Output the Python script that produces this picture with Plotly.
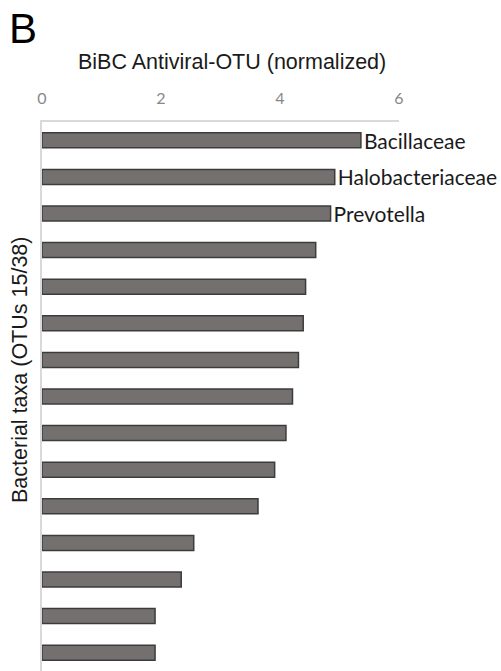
import plotly.graph_objects as go

categories = [f"OTU{i}" for i in range(1, 16)]
values = [5.36, 4.92, 4.85, 4.60, 4.43, 4.39, 4.31, 4.21, 4.10, 3.91, 3.63, 2.55, 2.34, 1.90, 1.90]
bar_labels = ["Bacillaceae", "Halobacteriaceae", "Prevotella"] + [""] * 12
x_ticks = [0, 2, 4, 6]

fig = go.Figure()
fig.add_trace(go.Bar(
    y=categories, x=values, orientation="h",
    width=0.41,
    marker=dict(color="#747070", line=dict(color="#3c3c3c", width=1.5)),
    text=bar_labels, textposition="outside", cliponaxis=False, constraintext="none",
    textfont=dict(family="Lato, Carlito, sans-serif", size=21, color="#1a1a1a"),
    hoverinfo="skip",
))

fig.update_layout(
    width=501, height=671,
    margin=dict(l=42, r=102, t=122, b=0),
    plot_bgcolor="white", paper_bgcolor="white",
    showlegend=False,
    xaxis=dict(
        side="top", range=[0, 6], tickvals=x_ticks, automargin=False,
        showgrid=False, zeroline=False,
        showline=True, linecolor="#d9d9d9", linewidth=2,
        tickfont=dict(family="Lato, sans-serif", size=16, color="#888888"),
        ticks="", ticklen=0, ticklabelstandoff=10,
    ),
    yaxis=dict(
        categoryorder="array", categoryarray=categories, automargin=False,
        autorange=False, range=[14.5, -0.5],
        showticklabels=False, showgrid=False, zeroline=False,
        showline=True, linecolor="#d9d9d9", linewidth=2, ticks="",
    ),
)

fig.add_annotation(text="B", xref="paper", yref="paper",
                   x=(22.5 - 42)/357, y=1 + (122 - 28)/549, xanchor="center", yanchor="middle",
                   showarrow=False, font=dict(family="Liberation Sans, Arial", size=42, color="black"))
fig.add_annotation(text="BiBC Antiviral-OTU (normalized)", xref="paper", yref="paper",
                   x=(232 - 42)/357, y=1 + (122 - 62)/549, xanchor="center", yanchor="middle",
                   showarrow=False, font=dict(family="Liberation Sans, Arial", size=21.5, color="#1a1a1a"))
fig.add_annotation(text="Bacterial taxa (OTUs 15/38)", xref="paper", yref="paper",
                   x=(20 - 42)/357, y=(671 - 370)/549, xanchor="center", yanchor="middle",
                   textangle=-90, showarrow=False,
                   font=dict(family="Liberation Sans, Arial", size=21.5, color="#1a1a1a"))

fig.write_html("out.html", config={"displayModeBar": False},
               post_script="document.body.style.margin='0';document.body.style.overflow='hidden';")
